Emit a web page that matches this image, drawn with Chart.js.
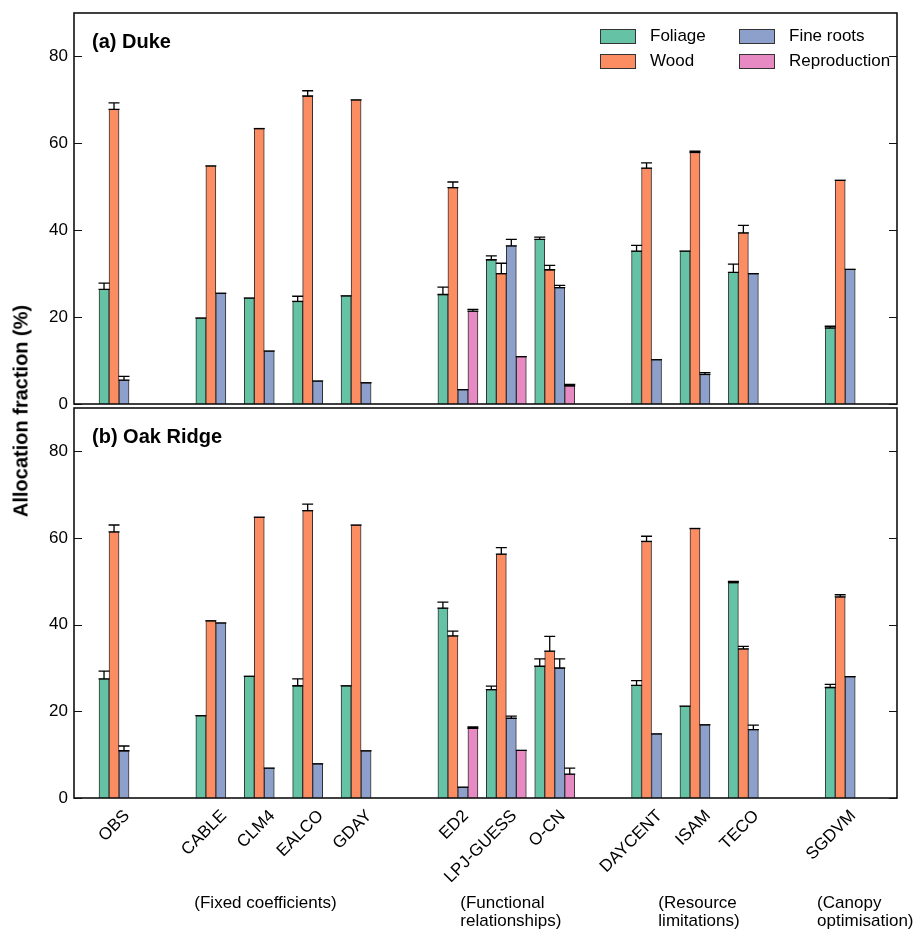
<!DOCTYPE html>
<html><head><meta charset="utf-8">
<script src="https://cdn.jsdelivr.net/npm/chart.js@4.4.1/dist/chart.umd.min.js"></script>
<style>
html,body{margin:0;padding:0;background:#fff;}
#wrap{position:relative;width:913px;height:930px;overflow:hidden;background:#fff;}
canvas{position:absolute;left:0;}
#ca{top:0}
#cb{top:406px}
#ytitle{position:absolute;left:21px;top:411px;transform:translate(-50%,-50%) rotate(-90deg);font:bold 20px "Liberation Sans",Arial,sans-serif;white-space:nowrap;color:#000;}
</style></head><body>
<div id="wrap">
<canvas id="ca" width="913" height="420"></canvas>
<canvas id="cb" width="913" height="524"></canvas>
<div id="ytitle">Allocation fraction (%)</div>
</div>
<script>
// ---------- data ----------
const modelGroups = [
  ['OBS'],
  ['CABLE','CLM4','EALCO','GDAY'],
  ['ED2','LPJ-GUESS','O-CN'],
  ['DAYCENT','ISAM','TECO'],
  ['SGDVM']
];
const groupLabels = ['', '(Fixed coefficients)', '(Functional\nrelationships)', '(Resource\nlimitations)', '(Canopy\noptimisation)'];
const seriesNames = ['Foliage','Wood','Fine roots','Reproduction'];
const yTicks = [0,20,40,60,80];

// (a) Duke
const dukeFoliage    = [26.4, 19.8, 24.4, 23.6, 24.9, 25.2, 33.2, 37.9, 35.2, 35.2, 30.3, 17.5];
const dukeFoliageErr = [1.4, 0, 0, 1.2, 0, 1.7, 0.9, 0.5, 1.3, 0, 1.9, 0.4];
const dukeWood       = [67.8, 54.8, 63.4, 70.9, 70.0, 49.8, 30.0, 30.9, 54.3, 57.9, 39.4, 51.5];
const dukeWoodErr    = [1.5, 0, 0, 1.2, 0, 1.3, 2.4, 1.0, 1.2, 0.3, 1.7, 0];
const dukeRoots      = [5.5, 25.5, 12.2, 5.3, 4.9, 3.3, 36.4, 26.8, 10.2, 6.8, 30.0, 31.0];
const dukeRootsErr   = [0.85, 0, 0, 0, 0, 0, 1.5, 0.5, 0, 0.4, 0, 0];
const dukeRepro      = [0, 0, 0, 0, 0, 21.4, 10.9, 4.2, 0, 0, 0, 0];
const dukeReproErr   = [0, 0, 0, 0, 0, 0.4, 0, 0.3, 0, 0, 0, 0];

// (b) Oak Ridge
const orFoliage    = [27.5, 19.0, 28.1, 25.9, 25.9, 43.8, 25.0, 30.4, 26.0, 21.2, 49.7, 25.5];
const orFoliageErr = [1.8, 0, 0, 1.6, 0, 1.4, 0.8, 1.7, 1.1, 0, 0.3, 0.7];
const orWood       = [61.4, 40.9, 64.8, 66.3, 63.0, 37.4, 56.3, 33.9, 59.2, 62.2, 34.4, 46.4];
const orWoodErr    = [1.6, 0, 0, 1.5, 0, 1.1, 1.5, 3.4, 1.2, 0, 0.6, 0.5];
const orRoots      = [10.9, 40.4, 6.9, 7.9, 10.9, 2.5, 18.4, 30.0, 14.8, 16.9, 15.8, 28.0];
const orRootsErr   = [1.1, 0, 0, 0, 0, 0, 0.5, 2.1, 0, 0, 1.0, 0];
const orRepro      = [0, 0, 0, 0, 0, 16.1, 11.0, 5.5, 0, 0, 0, 0];
const orReproErr   = [0, 0, 0, 0, 0, 0.3, 0, 1.4, 0, 0, 0, 0];

// ---------- derived ----------
const models = modelGroups.flat();
const slots = [];
(function(){ let s = 0; modelGroups.forEach(g => { g.forEach(() => slots.push(s++)); s++; }); })();

const colors = ['#66c2a5','#fc8d62','#8da0cb','#e78ac3'];
const FONT = '"Liberation Sans", Arial, sans-serif';
Chart.defaults.font.family = FONT;
Chart.defaults.color = '#000';

const framePlugin = {
  id: 'frame',
  afterDatasetsDraw(chart) {
    const {ctx, chartArea: a} = chart;
    const ys = chart.scales.y;
    ctx.save();
    ctx.strokeStyle = '#111';
    ctx.lineWidth = 1.2;
    yTicks.forEach(v => {
      const p = Math.round(ys.getPixelForValue(v)) + 0.5;
      ctx.beginPath();
      ctx.moveTo(a.left, p); ctx.lineTo(a.left + 8, p);
      ctx.moveTo(a.right, p); ctx.lineTo(a.right - 8, p);
      ctx.stroke();
    });
    ctx.lineWidth = 1.6;
    ctx.strokeRect(a.left, a.top, a.right - a.left, a.bottom - a.top);
    ctx.restore();
  }
};

const errPlugin = {
  id: 'errbars',
  afterDatasetsDraw(chart) {
    const {ctx} = chart;
    const ys = chart.scales.y;
    ctx.save();
    ctx.strokeStyle = '#000';
    ctx.lineWidth = 1.3;
    chart.data.datasets.forEach((ds, k) => {
      const meta = chart.getDatasetMeta(k);
      meta.data.forEach((bar, i) => {
        const v = ds.data[i].y, e = ds.errors[i];
        if (!v) return;
        const x = bar.x, y0 = ys.getPixelForValue(v), y1 = ys.getPixelForValue(v + e);
        const hw = 5.5;
        ctx.beginPath();
        ctx.moveTo(x - hw, y0); ctx.lineTo(x + hw, y0);
        if (e > 0) {
          ctx.moveTo(x, y0); ctx.lineTo(x, y1);
          ctx.moveTo(x - hw, y1); ctx.lineTo(x + hw, y1);
        }
        ctx.stroke();
      });
    });
    ctx.restore();
  }
};

const titlePlugin = {
  id: 'ptitle',
  afterDraw(chart, args, opts) {
    const {ctx, chartArea: a} = chart;
    ctx.save();
    ctx.font = 'bold 20px ' + FONT;
    ctx.fillStyle = '#000';
    ctx.textBaseline = 'middle';
    ctx.textAlign = 'left';
    ctx.fillText(opts.text, a.left + 18, a.top + 29);
    ctx.restore();
  }
};

const legendPlugin = {
  id: 'collegend',
  afterDraw(chart) {
    const {ctx, chartArea: a} = chart;
    const cols = [a.right - 297, a.right - 158];
    const rows = [a.top + 16, a.top + 41];
    ctx.save();
    ctx.font = '17px ' + FONT;
    ctx.textBaseline = 'middle';
    ctx.textAlign = 'left';
    chart.data.datasets.forEach((ds, k) => {
      const c = Math.floor(k / 2), r = k % 2;
      const x = cols[c], y = rows[r];
      ctx.fillStyle = ds.backgroundColor;
      ctx.fillRect(x, y, 35, 14);
      ctx.strokeStyle = '#333';
      ctx.lineWidth = 1;
      ctx.strokeRect(x + 0.5, y + 0.5, 35, 14);
      ctx.fillStyle = '#000';
      ctx.fillText(ds.label, x + 50, y + 7.5);
    });
    ctx.restore();
  }
};

const groupLabelPlugin = {
  id: 'grouplabels',
  afterDraw(chart, args, opts) {
    const {ctx} = chart;
    const xs = chart.scales.x;
    ctx.save();
    ctx.font = '17px ' + FONT;
    ctx.fillStyle = '#000';
    ctx.textBaseline = 'middle';
    ctx.textAlign = 'left';
    groupLabels.forEach((lab, g) => {
      if (!lab) return;
      const x = xs.getPixelForValue(opts.anchors[g]);
      lab.split('\n').forEach((line, j) => ctx.fillText(line, x, opts.y + j * 18.7));
    });
    ctx.restore();
  }
};

function makeDatasets(vals, errs) {
  return seriesNames.map((n, k) => ({
    label: n,
    data: vals[k].map((v, i) => ({x: slots[i], y: v})),
    errors: errs[k],
    backgroundColor: colors[k],
    borderColor: '#333',
    borderWidth: 1,
    barThickness: 10
  }));
}

function zeroPad(s) { s.paddingLeft = 0; s.paddingRight = 0; s.paddingTop = 0; s.paddingBottom = 0; }

function makeChart(id, vals, errs, title, isBottom) {
  const extra = isBottom ? [groupLabelPlugin] : [legendPlugin];
  return new Chart(document.getElementById(id), {
    type: 'bar',
    data: {datasets: makeDatasets(vals, errs)},
    options: {
      responsive: false,
      animation: false,
      events: [],
      layout: {padding: isBottom ? {top: 2, right: 16, bottom: 0, left: 0} : {top: 13, right: 16, bottom: 16, left: 0}},
      plugins: {
        legend: {display: false},
        tooltip: {enabled: false},
        ptitle: {text: title},
        grouplabels: {anchors: [0, 1.555, 7.05, 11.14, 14.42], y: 497}
      },
      scales: {
        x: {
          type: 'linear',
          min: -0.93, max: 16.07,
          offset: false,
          bounds: 'data',
          display: isBottom,
          grid: {display: false, drawTicks: false, offset: false},
          border: {display: false},
          afterBuildTicks: s => { s.ticks = slots.map(v => ({value: v})); },
          afterFit: s => { if (isBottom) s.height = 132; zeroPad(s); },
          ticks: {
            autoSkip: false,
            minRotation: 45, maxRotation: 45,
            padding: 8,
            labelOffset: 8,
            font: {size: 17},
            color: '#000',
            callback: (v, i) => models[i]
          }
        },
        y: {
          min: 0, max: 90,
          grid: {display: false, drawTicks: false},
          border: {display: false},
          afterBuildTicks: s => { s.ticks = yTicks.map(v => ({value: v})); },
          afterFit: s => { s.width = 74; zeroPad(s); },
          ticks: {padding: 6, font: {size: 17}, color: '#000'}
        }
      }
    },
    plugins: [framePlugin, errPlugin, titlePlugin].concat(extra)
  });
}

makeChart('ca',
  [dukeFoliage, dukeWood, dukeRoots, dukeRepro],
  [dukeFoliageErr, dukeWoodErr, dukeRootsErr, dukeReproErr],
  '(a) Duke', false);
makeChart('cb',
  [orFoliage, orWood, orRoots, orRepro],
  [orFoliageErr, orWoodErr, orRootsErr, orReproErr],
  '(b) Oak Ridge', true);
</script>
</body></html>
